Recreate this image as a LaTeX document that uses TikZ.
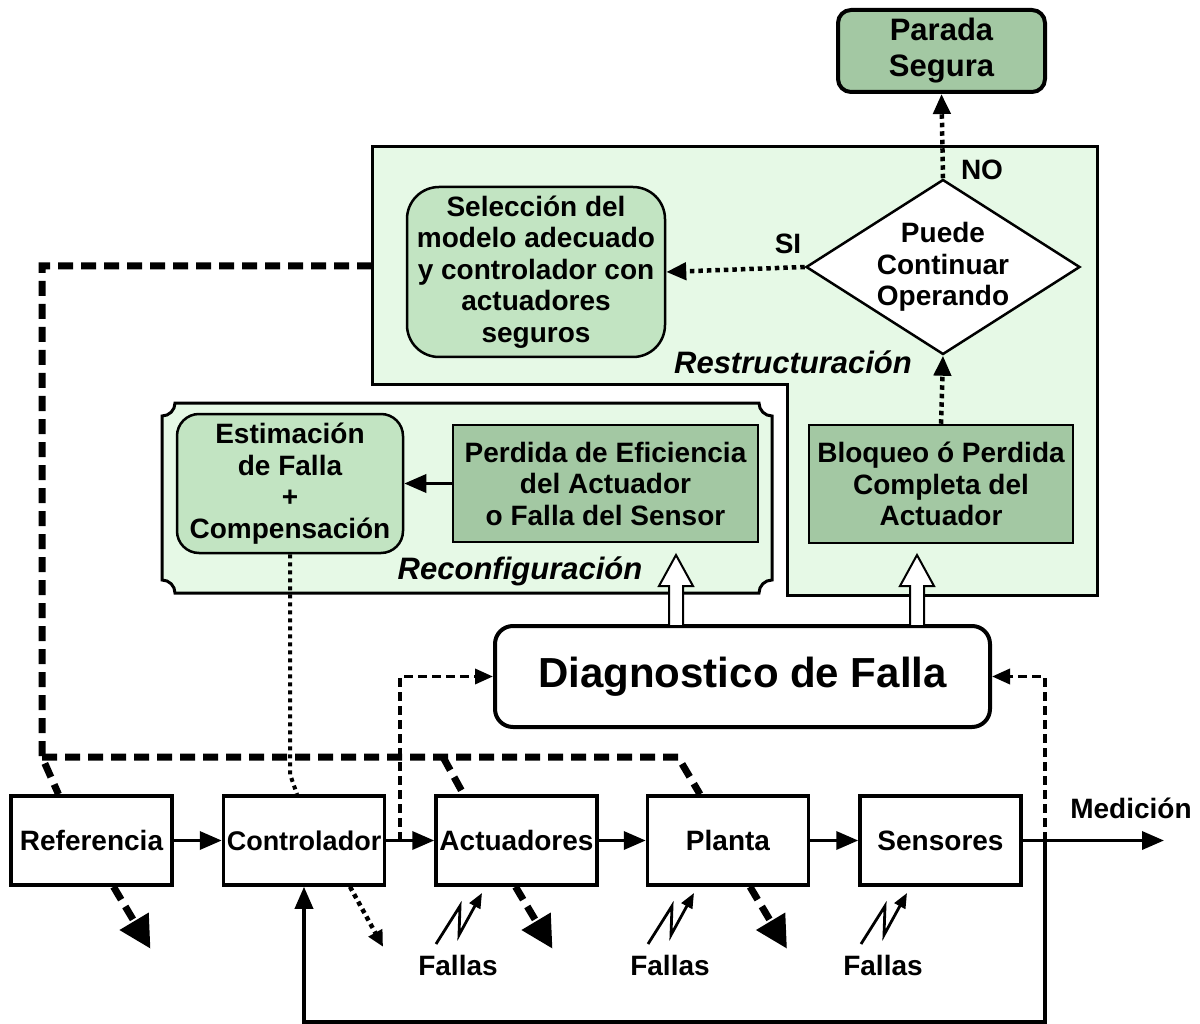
\documentclass[tikz,border=0pt]{standalone}
\usepackage{fontspec}
\setmainfont{Liberation Sans}
\usetikzlibrary{arrows.meta,shapes.geometric,calc}
\definecolor{lightg}{HTML}{E6F9E6}
\definecolor{midg}{HTML}{C2E4C2}
\definecolor{darkg}{HTML}{A3C8A3}
\tikzset{
  txt/.style={font=\fontsize{28}{31.5}\selectfont\bfseries, align=center, inner sep=0pt},
  itxt/.style={txt, font=\fontsize{31}{34}\selectfont\bfseries\itshape},
  blk/.style={txt, draw, line width=3.5pt, minimum width=161pt, minimum height=89pt, fill=white},
  gbox/.style={txt, draw, line width=2.5pt},
  panel/.style={draw, line width=3pt, fill=lightg},
  solidarrow/.style={line width=3.5pt, -{Triangle[length=22pt,width=18pt]}},
  thinarrow/.style={line width=2.8pt, -{Triangle[length=15pt,width=12pt]}},
  dotarrow/.style={line width=4.5pt, dash pattern=on 4.5pt off 4pt, -{Triangle[length=20pt,width=17pt]}},
  dotline/.style={line width=4pt, dash pattern=on 4pt off 4pt},
  smalldotarrow/.style={line width=4.5pt, dash pattern=on 4.5pt off 4pt, -{Triangle[length=16pt,width=15pt]}},
  thindash/.style={line width=3.5pt, dash pattern=on 9pt off 5pt, -{Triangle[length=18pt,width=15pt]}},
  bigdash/.style={line width=7pt, dash pattern=on 15pt off 8pt},
  bigdasharrow/.style={line width=7pt, dash pattern=on 15pt off 8pt, -{Triangle[length=32pt,width=32pt]}},
}
\newcommand\myflash[1]{\draw[thinarrow, shift={(#1)}] (0,0) -- (24,-38) -- (23,-9) -- (46,-51);}
\newcommand\myhollow[2]{\draw[line width=2pt, fill=white] (#1-7,#2) -- (#1-7,#2-40) -- (#1-17,#2-40) -- (#1,#2-71) -- (#1+17,#2-40) -- (#1+7,#2-40) -- (#1+7,#2) -- cycle;}
\begin{document}
\begin{tikzpicture}[x=1pt,y=-1pt]
\useasboundingbox (0,0) rectangle (1200,1024);

% Restructuracion panel
\draw[panel] (372,147) -- (1097,147) -- (1097,595) -- (787,595) -- (787,385) -- (372,385) -- cycle;
% Reconfiguracion plaque
\def\rr{13}
\draw[panel] (162+\rr,403) -- (772-\rr,403) arc[start angle=180,end angle=90,radius=\rr]
  -- (772,593-\rr) arc[start angle=270,end angle=180,radius=\rr]
  -- (162+\rr,593) arc[start angle=0,end angle=-90,radius=\rr]
  -- (162,403+\rr) arc[start angle=90,end angle=0,radius=\rr] -- cycle;

% top nodes
\node[gbox, line width=4pt, fill=darkg, rounded corners=13pt, minimum width=207pt, minimum height=82pt, font=\fontsize{31}{36}\selectfont\bfseries] (parada) at (941.5,51) {Parada\\Segura};
\node[gbox, fill=midg, rounded corners=32pt, minimum width=258pt, minimum height=170pt] (sel) at (536,272) {Selección del\\modelo adecuado\\y controlador con\\actuadores\\seguros};
\node[diamond, draw, line width=2.5pt, fill=white, aspect=1.57, inner sep=0pt, minimum width=274pt, minimum height=175pt] (dia) at (943,267) {};
\node[txt] (diat) at (943,267) {Puede\\Continuar\\Operando};
\node[gbox, fill=darkg, minimum width=264pt, minimum height=118pt] (bloq) at (941,484) {Bloqueo ó Perdida\\Completa del\\Actuador};
\node[txt] (no) at (982,170) {NO};
\node[txt] (si) at (788,244) {SI};
\node[itxt] (restr) at (793,362) {Restructuración};

\node[gbox, fill=midg, rounded corners=22pt, minimum width=226pt, minimum height=139pt] (est) at (290,483.5) {Estimación\\de Falla\\+\\Compensación};
\node[gbox, fill=darkg, minimum width=305pt, minimum height=117pt] (perd) at (605.5,483.5) {Perdida de Eficiencia\\del Actuador\\o Falla del Sensor};
\node[itxt] (reconf) at (520,571) {Reconfiguración};

\node[txt, draw, line width=4pt, fill=white, rounded corners=18pt, minimum width=495pt, minimum height=101pt, font=\fontsize{42}{46}\selectfont\bfseries] (diag) at (742.5,676.5) {Diagnostico de Falla};

% bottom row
\node[blk] (ref) at (91.5,840.5) {Referencia};
\node[blk, font=\fontsize{27}{31}\selectfont\bfseries] (ctrl) at (304,840.5) {Controlador};
\node[blk] (act) at (516.5,840.5) {Actuadores};
\node[blk] (plant) at (728,840.5) {Planta};
\node[blk] (sens) at (940.5,840.5) {Sensores};
\node[txt] (med) at (1131,808) {Medición};
\node[txt] (f1) at (458,965) {Fallas};
\node[txt] (f2) at (670,965) {Fallas};
\node[txt] (f3) at (883,965) {Fallas};

% connectors in panels
\draw[dotarrow] (dia.north) -- (parada.south);
\draw[dotarrow] (dia.west) -- (sel.east);
\draw[dotarrow] (bloq.north) -- (dia.south);
\draw[solidarrow] (perd.west) -- (est.east);
\myhollow{676}{626}
\myhollow{917}{626}

% bottom connectors
\draw[solidarrow] (ref.east) -- (ctrl.west);
\draw[solidarrow] (ctrl.east) -- (act.west);
\draw[solidarrow] (act.east) -- (plant.west);
\draw[solidarrow] (plant.east) -- (sens.west);
\coordinate (medend) at (1164,840.5);
\draw[solidarrow] (sens.east) -- (medend);
\coordinate (fb) at (1045,840.5);
\draw[solidarrow] (fb) |- ($(ctrl.south)+(0,135)$) -- (ctrl.south);

\coordinate (c1) at (400,840.5);
\draw[thindash] (c1) |- (diag.west);
\draw[thindash] (fb) |- (diag.east);

% estimation dotted
\draw[dotline] (est.south) -- ++(0,220) -- ($(ctrl.north)+(-7,0)$);

% big dashed
\coordinate (r1) at (372,266);
\draw[bigdash] (r1) -- (42,266) -- (42,757) -- ($(ref.north)+(-33,0)$);
\draw[bigdash] (42,757) -- (678,757) -- ($(plant.north)+(-28,0)$);
\draw[bigdash] (443,757) -- ($(act.north)+(-53,0)$);

% output arrows
\draw[bigdasharrow] ($(ref.south)+(22,0)$) -- ++(37,62);
\draw[smalldotarrow] ($(ctrl.south)+(46,0)$) -- ++(33,60);
\draw[bigdasharrow] ($(act.south)+(-1,0)$) -- ++(37,62);
\draw[bigdasharrow] ($(plant.south)+(22,0)$) -- ++(37,62);

% fault flashes
\myflash{436,944}
\myflash{648,944}
\myflash{861,944}
\end{tikzpicture}
\end{document}
